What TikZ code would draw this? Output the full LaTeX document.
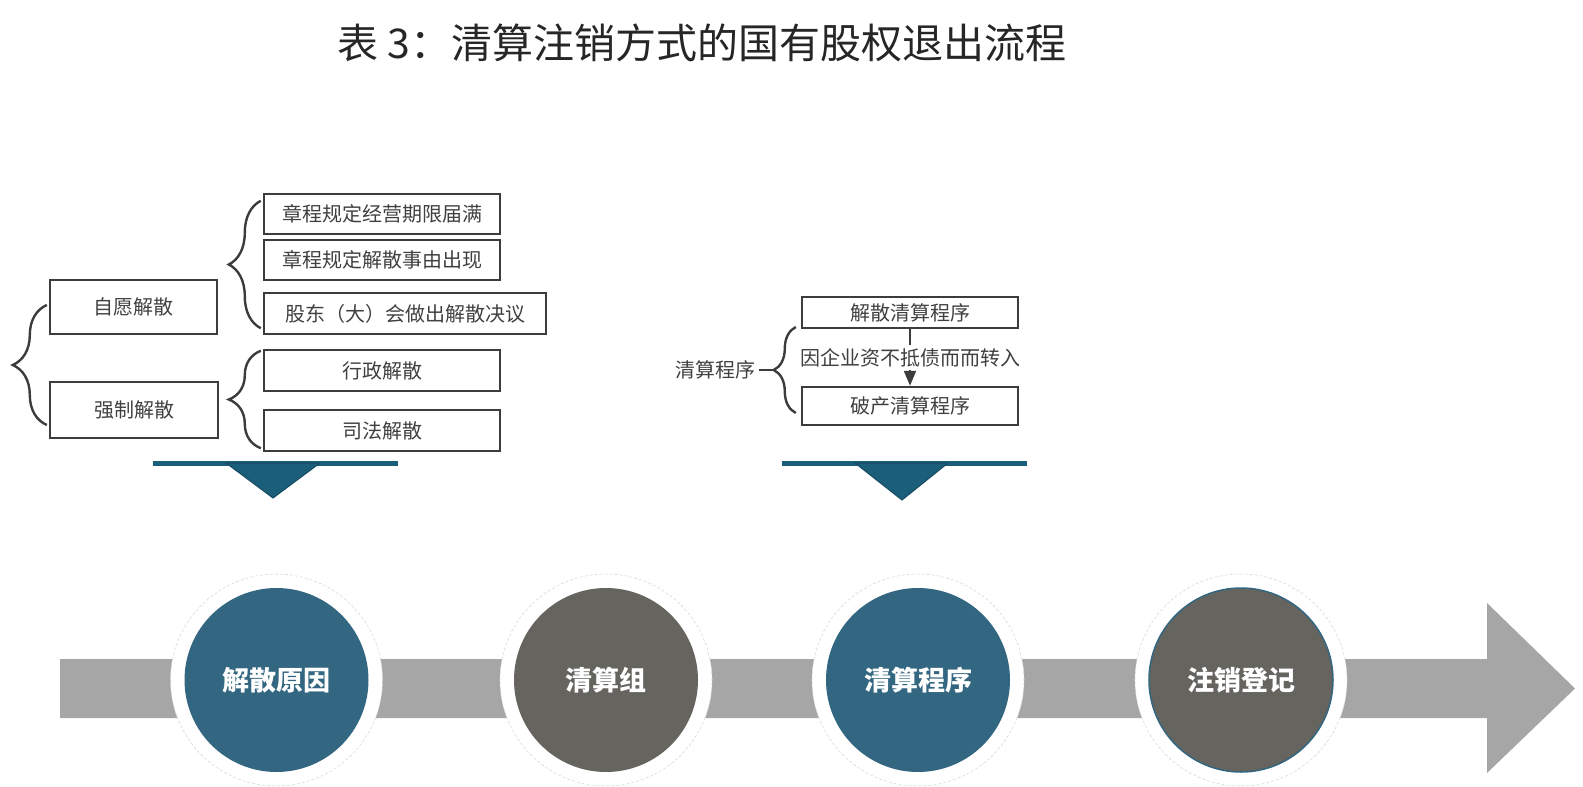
\documentclass[tikz,border=0pt]{standalone}
\usepackage{fontspec}
\setmainfont{Noto Sans CJK SC}
\usepackage{tikz}
\usepackage{xcolor}
\usetikzlibrary{arrows.meta,decorations.pathreplacing}

\definecolor{stageblue}{RGB}{51,102,128}
\definecolor{stagegray}{RGB}{102,100,95}
\definecolor{bandgray}{RGB}{166,166,166}
\definecolor{accent}{RGB}{27,94,122}
\definecolor{boxline}{RGB}{60,60,60}
\definecolor{boxtext}{RGB}{64,64,64}

\begin{document}
\begin{tikzpicture}[
        x=1pt, y=-1pt, % pixel grid
        item/.style={
            draw=boxline,
            rectangle,
            line width=2.4pt,
            minimum width=236pt,
            minimum height=40pt,
            inner sep=0pt,
            text=boxtext,
            font=\fontsize{20}{24}\selectfont
        },
        tag/.style={
            text=boxtext,
            font=\fontsize{20}{24}\selectfont
        },
        curly/.style={
            draw=boxline,
            line width=2.4pt,
            decorate,
            decoration={brace, amplitude=#1}
        },
        curly/.default=32pt,
        flow/.style={
            -{Triangle[length=15pt,width=12pt]},
            draw=boxline,
            line width=2pt
        },
        ring/.style={
            circle,
            fill=white,
            draw=gray!30,
            densely dashed,
            line width=0.6pt,
            minimum size=212pt,
            inner sep=0pt
        },
        stage/.style={
            circle,
            minimum size=184pt,
            inner sep=0pt,
            text=white,
            font=\fontsize{27}{32}\selectfont\bfseries
        }
    ]
        \useasboundingbox (0,0) rectangle (1583,787);

        \node (title) [text=black!85, font=\fontsize{41}{50}\selectfont] at (702,43) {表 3：清算注销方式的国有股权退出流程};

        % dissolution causes
        \node (vol) [item, minimum width=167pt, minimum height=54pt] at (133.5,307) {自愿解散};
        \node (force) [item, minimum width=168pt, minimum height=56pt] at (134,410) {强制解散};
        \node (r1) [item] at (382,214) {章程规定经营期限届满};
        \node (r2) [item] at (382,260) {章程规定解散事由出现};
        \node (r3) [item, minimum width=282pt, minimum height=41pt] at (405,313.5) {股东（大）会做出解散决议};
        \node (r4) [item, minimum height=41pt] at (382,370.5) {行政解散};
        \node (r5) [item, minimum height=41pt] at (382,430.5) {司法解散};

        \draw[curly=34pt] ([xshift=-2pt,yshift=-15pt]force.west) -- ([xshift=-2pt,yshift=2pt]vol.west);
        \draw[curly] ([xshift=-2pt,yshift=7pt]r3.south west) -- ([xshift=-2pt,yshift=-8pt]r1.north west);
        \draw[curly] ([xshift=-2pt,yshift=4pt]r5.south west) -- ([xshift=-2pt,yshift=-2pt]r4.north west);

        % liquidation procedure
        \node (m1) [item, minimum width=216pt, minimum height=31pt] at (910,312.5) {解散清算程序};
        \node (m2) [item, minimum width=216pt, minimum height=38pt] at (910,406) {破产清算程序};
        \node (mlabel) [tag] at (715,370) {清算程序};
        \coordinate (mtip) at (775,370);

        \draw[flow] (m1) -- (m2) node[midway, tag, fill=white, inner sep=3pt] {因企业资不抵债而而转入};
        \draw[curly=22pt] ([xshift=-5pt,yshift=-7pt]m2.west) -- ([xshift=-5pt,yshift=-14.5pt]m1.west);
        \draw[draw=boxline, line width=2.4pt] (mlabel.east) -- (mtip);

        % pointers
        \draw[accent, line width=5pt] (153,463) -- (398,463);
        \filldraw[fill=accent, draw=accent!80!black, line width=1pt] (226,463) -- (320,463) -- (273,498) -- cycle;
        \draw[accent, line width=5pt] (782,463) -- (1027,463);
        \filldraw[fill=accent, draw=accent!80!black, line width=1pt] (855,463) -- (948,463) -- (902,500) -- cycle;

        % timeline
        \fill[bandgray] (60,659) -- (1487,659) -- (1487,603) -- (1575,688.5) -- (1487,773) -- (1487,718) -- (60,718) -- cycle;

        \node (o1) [ring] at (276.5,680) {};
        \node (o2) [ring] at (606,680) {};
        \node (o3) [ring] at (918,680) {};
        \node (o4) [ring] at (1241,680) {};
        \node (c1) [stage, fill=stageblue] at (o1) {解散原因};
        \node (c2) [stage, fill=stagegray] at (o2) {清算组};
        \node (c3) [stage, fill=stageblue] at (o3) {清算程序};
        \node (c4) [stage, fill=stagegray, draw=stageblue, line width=1.5pt] at (o4) {注销登记};
    \end{tikzpicture}
\end{document}
